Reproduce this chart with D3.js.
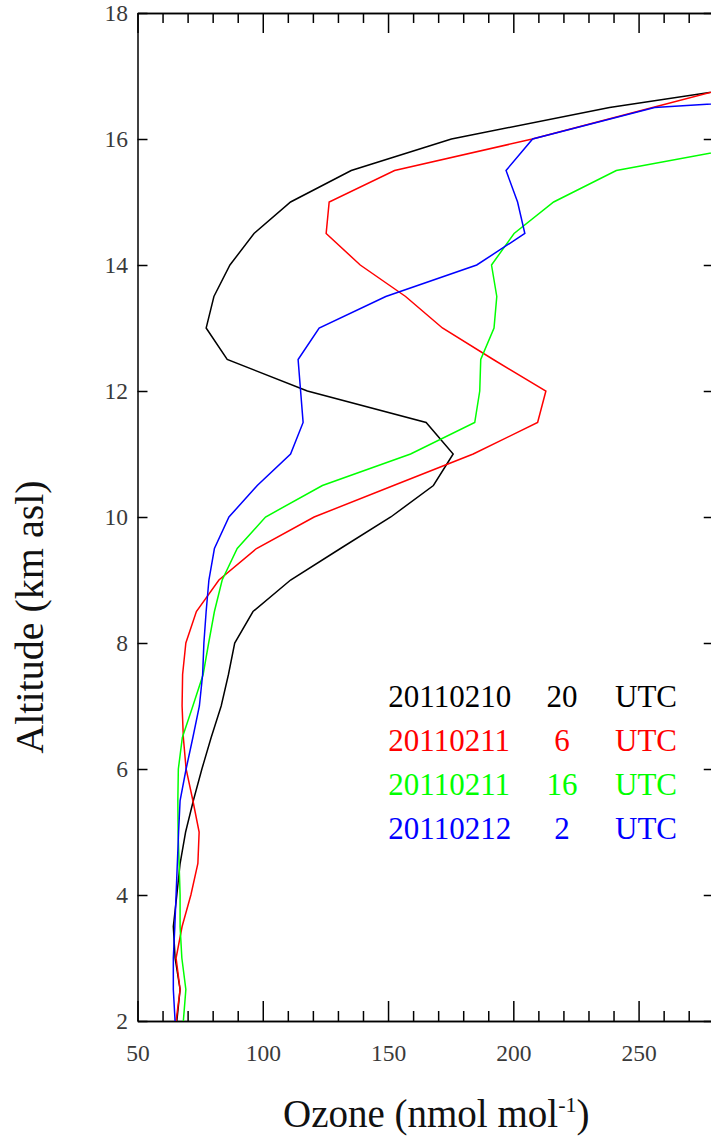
<!DOCTYPE html>
<html>
<head>
<meta charset="utf-8">
<script src="https://cdn.jsdelivr.net/npm/d3@7"></script>
<style>
  body { margin: 0; background: #fff; overflow: hidden; }
  svg { display: block; }
  .tick text { font-family: "Liberation Serif", "Times New Roman", serif; font-size: 23.5px; fill: #3a3a3a; }
  .tick line, .domain { stroke: #000; stroke-width: 1.5px; }
</style>
</head>
<body>
<div id="my_dataviz"></div>
<script>

// altitude levels (km asl)
var altitude = [2, 2.5, 3, 3.5, 4, 4.5, 5, 5.5, 6, 6.5, 7, 7.5, 8, 8.5, 9, 9.5,
                10, 10.5, 11, 11.5, 12, 12.5, 13, 13.5, 14, 14.5, 15, 15.5, 16, 16.5, 17];

// ozone (nmol/mol) for each sounding
var ozone_20110210_20 = [65.7, 67, 65, 64.3, 65.7, 67, 69.2, 72.3, 75.7, 79.4, 83.4, 86.3, 88.8, 96.1, 111.1, 131,
                         151.1, 168.1, 176, 165.2, 117.8, 85.8, 77.4, 80.5, 86.9, 96.5, 111.1, 135.3, 175.3, 238.4, 322];
var ozone_20110211_06 = [65.4, 67, 65.4, 67.8, 71.3, 74.1, 74.6, 72.1, 69.4, 68.3, 67.8, 68, 69.3, 73.5, 82.5, 97.5,
                         120.5, 152.2, 184, 209.7, 213, 192, 171.7, 157, 138.9, 125.3, 126.5, 152.6, 207.6, 255.6, 304];
var ozone_20110211_16 = [68.3, 69.3, 67.7, 67, 67, 66.6, 66.2, 66.1, 66.3, 67.9, 72.1, 76.2, 78.4, 80.7, 83.8, 89.8,
                         101.1, 123.8, 159, 184.6, 186.6, 187, 192.3, 193.4, 191.3, 200.3, 216.1, 241.1, 309, null, null];
var ozone_20110212_02 = [65, 64.3, 64.3, 64.9, 65.4, 65.9, 66.4, 67, 69.4, 72.1, 74.7, 76, 76.5, 77.4, 78.5, 80.7,
                         86.5, 97.8, 111.1, 116.1, 115.1, 114.1, 122.5, 149.1, 185.4, 204.6, 201.7, 197.1, 207.7, 256.4, 460];

// legend labels
var seriesDates = ["20110210", "20110211", "20110211", "20110212"];
var seriesHours = ["20", "6", "16", "2"];
var seriesUnit = "UTC";
var allSeries = [ozone_20110210_20, ozone_20110211_06, ozone_20110211_16, ozone_20110212_02];
var seriesColors = ["#000000", "#ff0000", "#00ff00", "#0000ff"];

// ticks
var xMajorTicks = [50, 100, 150, 200, 250];
var xMinorTicks = [60, 70, 80, 90, 110, 120, 130, 140, 160, 170, 180, 190, 210, 220, 230, 240, 260, 270, 280];
var yTicks = [2, 4, 6, 8, 10, 12, 14, 16, 18];

// set the dimensions and margins of the graph
var margin = {top: 13, left: 137.5},
    width = 576.25,
    height = 1008;

var svg = d3.select("#my_dataviz")
  .append("svg")
    .attr("width", 711)
    .attr("height", 1139)
  .append("g")
    .attr("transform", "translate(" + margin.left + "," + margin.top + ")");

var x = d3.scaleLinear().domain([50, 280]).range([0, width]);
var y = d3.scaleLinear().domain([2, 18]).range([height, 0]);

// clip the profiles to the frame
svg.append("clipPath").attr("id", "clip")
  .append("rect").attr("width", width).attr("height", height);

// bottom axis: major ticks with labels, minor ticks without
svg.append("g")
  .attr("transform", "translate(0," + height + ")")
  .call(d3.axisBottom(x).tickValues(xMajorTicks).tickSizeInner(-20).tickSizeOuter(0).tickPadding(23));
svg.append("g")
  .attr("transform", "translate(0," + height + ")")
  .call(d3.axisBottom(x).tickValues(xMinorTicks).tickSizeInner(-10).tickSizeOuter(0).tickFormat(""));

// top axis (mirror)
svg.append("g")
  .call(d3.axisTop(x).tickValues(xMajorTicks).tickSizeInner(-20).tickSizeOuter(0).tickFormat(""));
svg.append("g")
  .call(d3.axisTop(x).tickValues(xMinorTicks).tickSizeInner(-10).tickSizeOuter(0).tickFormat(""));

// left axis
svg.append("g")
  .call(d3.axisLeft(y).tickValues(yTicks).tickSizeInner(-10).tickSizeOuter(0).tickPadding(9.5));

// right axis (mirror)
svg.append("g")
  .attr("transform", "translate(" + width + ",0)")
  .call(d3.axisRight(y).tickValues(yTicks).tickSizeInner(-10).tickSizeOuter(0).tickFormat(""));

// profiles
var line = d3.line()
  .defined(function(d) { return d[1] != null; })
  .x(function(d) { return x(d[1]); })
  .y(function(d) { return y(d[0]); });

allSeries.forEach(function(s, i) {
  svg.append("path")
    .datum(altitude.map(function(a, j) { return [a, s[j]]; }))
    .attr("clip-path", "url(#clip)")
    .attr("fill", "none")
    .attr("stroke", seriesColors[i])
    .attr("stroke-width", 1.5)
    .attr("d", line);
});

// legend
var legend = svg.append("g")
  .attr("transform", "translate(0,693.7)")
  .style("font-family", "'Liberation Serif', 'Times New Roman', serif")
  .style("font-size", "31px");

seriesDates.forEach(function(d, i) {
  var row = legend.append("g")
    .attr("transform", "translate(0," + (i * 44) + ")")
    .attr("fill", seriesColors[i]);
  row.append("text").attr("x", 250.8).text(d);
  row.append("text").attr("x", 424.5).attr("text-anchor", "middle").text(seriesHours[i]);
  row.append("text").attr("x", 477.5).text(seriesUnit);
});

// text label for the y axis
svg.append("text")
  .attr("transform", "translate(" + (43 - margin.left) + "," + (617 - margin.top) + ") rotate(-90)")
  .style("text-anchor", "middle")
  .style("font-family", "'Liberation Serif', 'Times New Roman', serif")
  .style("font-size", "40px")
  .attr("fill", "#111")
  .text("Altitude (km asl)");

// text label for the x axis
var xt = svg.append("text")
  .attr("x", 283 - margin.left)
  .attr("y", 1127 - margin.top)
  .style("font-family", "'Liberation Serif', 'Times New Roman', serif")
  .style("font-size", "39px")
  .attr("fill", "#111");
xt.append("tspan").text("Ozone (nmol mol");
xt.append("tspan").attr("dy", -15).style("font-size", "22px").text("-1");
xt.append("tspan").attr("dy", 15).text(")");

</script>
</body>
</html>
